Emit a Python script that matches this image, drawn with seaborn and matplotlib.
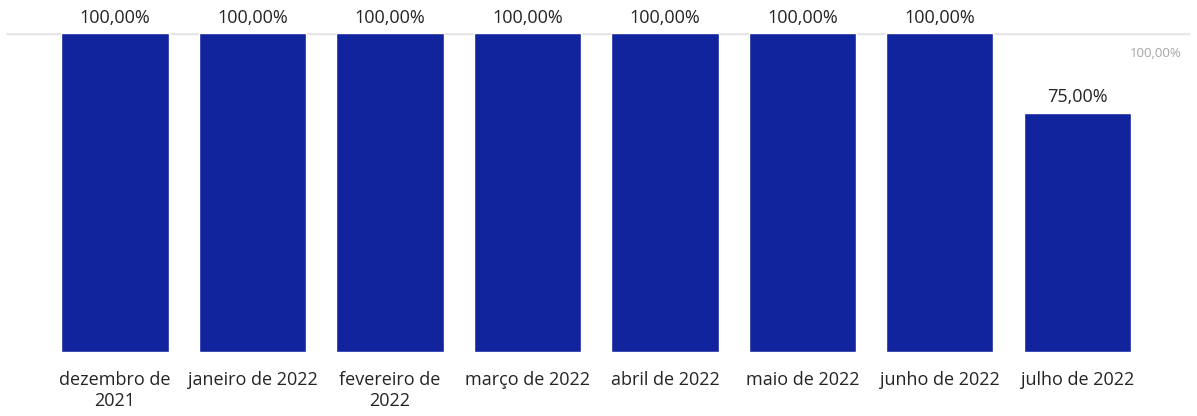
import textwrap
import pandas as pd
import seaborn as sns
import matplotlib.pyplot as plt

# Data
meses = ["dezembro de 2021", "janeiro de 2022", "fevereiro de 2022", "março de 2022",
         "abril de 2022", "maio de 2022", "junho de 2022", "julho de 2022"]
percentual = [1.00, 1.00, 1.00, 1.00, 1.00, 1.00, 1.00, 0.75]
referencia = 1.00

sns.set_theme(style="white")
plt.rcParams["font.family"] = ["Open Sans", "DejaVu Sans"]

df = pd.DataFrame({"mes": meses, "valor": percentual})

fig = plt.figure(figsize=(11.97, 4.16), dpi=100)
ax = fig.add_axes([0.005, 0.1538, 0.989, 0.7669])

sns.barplot(data=df, x="mes", y="valor", color="#12239E", saturation=1,
            width=0.78, ax=ax)

def fmt(v):
    return f"{v * 100:.2f}%".replace(".", ",")

# reference line
ax.axhline(referencia, color="#E6E6E6", lw=2.5, zorder=0)
ax.annotate(fmt(referencia), (1.0, referencia), xycoords=ax.get_yaxis_transform(),
            xytext=(-6, -10), textcoords="offset points",
            ha="right", va="top", fontsize=9.5, color="#A6A6A6")

for i, v in enumerate(percentual):
    ax.annotate(fmt(v), (i, v), xytext=(0, 4.5), textcoords="offset points",
                ha="center", va="bottom", fontsize=13, color="#252423",
                annotation_clip=False)

ax.set_xlim(-0.793, 7.818)
ax.set_ylim(0, 1.0)
ax.set_xticks(range(len(meses)))
ax.set_xticklabels([textwrap.fill(m, 15) for m in meses], fontsize=13,
                   color="#252423", linespacing=1.15)
ax.tick_params(axis="x", length=0, pad=14)
ax.set_yticks([])
ax.set_xlabel("")
ax.set_ylabel("")
sns.despine(left=True, bottom=True)

fig.savefig("out.png", dpi=100)
